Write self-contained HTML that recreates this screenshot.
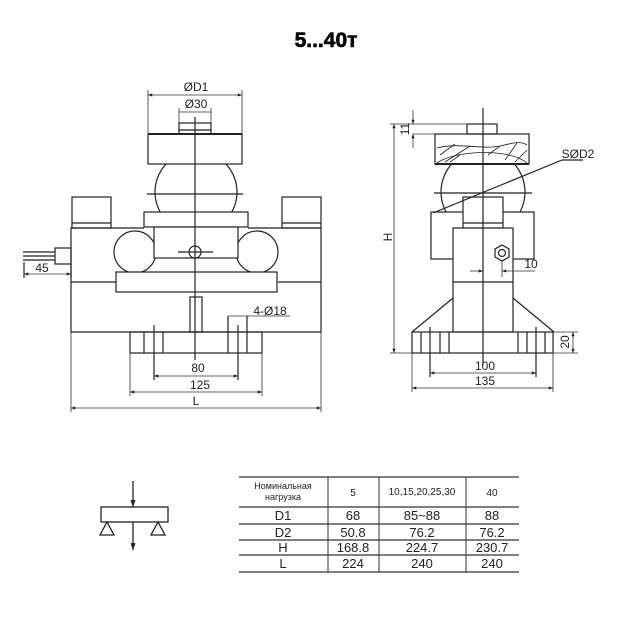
<!DOCTYPE html>
<html><head><meta charset="utf-8"><style>
html,body{margin:0;padding:0;background:#fff;}
svg{display:block;}
text{font-family:"Liberation Sans","DejaVu Sans",sans-serif;fill:#222;}
</style></head><body>
<svg width="630" height="630" viewBox="0 0 630 630" xmlns="http://www.w3.org/2000/svg">
<defs>
<marker id="a" viewBox="0 0 8 6" refX="8" refY="3" markerWidth="6" markerHeight="4" orient="auto-start-reverse"><path d="M0,0L8,3L0,6z" fill="#222"/></marker>
<clipPath id="bc1"><rect x="100" y="164" width="200" height="49"/></clipPath>
<clipPath id="bc2"><rect x="400" y="165" width="200" height="47"/></clipPath>
<clipPath id="sb"><rect x="0" y="228" width="630" height="44"/></clipPath>
</defs>
<text x="326" y="47" font-size="21" font-weight="bold" text-anchor="middle" style="fill:#000;stroke:#000;stroke-width:0.6">5...40т</text>

<g fill="none" stroke="#222" stroke-width="1.2">
<!-- LEFT VIEW -->
<rect x="148" y="134" width="94" height="30"/>
<line x1="148" y1="134" x2="242" y2="134" stroke-width="2"/>
<rect x="179" y="123" width="32" height="11"/>
<line x1="179" y1="130" x2="211" y2="130"/>
<g clip-path="url(#bc1)"><circle cx="196" cy="192" r="41"/></g>
<line x1="147" y1="194" x2="243" y2="194"/>
<g clip-path="url(#sb)"><circle cx="135" cy="252" r="21"/><circle cx="257" cy="252" r="21"/></g>
<rect x="144" y="212" width="104" height="15" fill="#fff"/>
<rect x="154" y="227" width="84" height="31" fill="#fff"/>
<path d="M144,228H71V332H321V228H248"/>
<path d="M71,282H116M278,282H321"/>
<rect x="116" y="272" width="161" height="20" fill="#fff"/>
<rect x="72" y="197" width="39" height="31"/>
<line x1="72" y1="223" x2="111" y2="223"/>
<rect x="282" y="197" width="39" height="31"/>
<line x1="282" y1="223" x2="321" y2="223"/>
<circle cx="195" cy="252" r="6"/>
<line x1="178" y1="252" x2="213" y2="252"/>
<rect x="190" y="297" width="12" height="35"/>
<rect x="130" y="332" width="132" height="21"/>
<path d="M144,332V353M163,332V353M228,316V353M247,316V353"/>
<path d="M154,325V380M238,325V380"/>
<line x1="195" y1="117" x2="195" y2="360"/>
<rect x="55" y="248" width="16" height="16"/>
<path d="M23,252H55M23,256H55M23,260H55"/>
<path d="M24,262V278M71,264V278"/>
</g>
<g stroke="#333" stroke-width="0.8" fill="none">
<path d="M148,134V90M242,134V90M179,123V108M211,123V108"/>
<line x1="148" y1="95" x2="242" y2="95" marker-start="url(#a)" marker-end="url(#a)"/>
<line x1="179" y1="112" x2="211" y2="112"/>
<line x1="24" y1="274" x2="71" y2="274" marker-start="url(#a)" marker-end="url(#a)"/>
<line x1="154" y1="376" x2="238" y2="376" marker-start="url(#a)" marker-end="url(#a)"/>
<path d="M130,353V396M262,353V396M71,332V412M321,332V412"/>
<line x1="130" y1="392" x2="262" y2="392" marker-start="url(#a)" marker-end="url(#a)"/>
<line x1="71" y1="408" x2="321" y2="408" marker-start="url(#a)" marker-end="url(#a)"/>
<line x1="228" y1="316" x2="290" y2="316"/>
</g>
<g font-size="12" text-anchor="middle">
<text x="196" y="91">ØD1</text>
<text x="196" y="108">Ø30</text>
<text x="42" y="272">45</text>
<text x="270" y="315">4-Ø18</text>
<text x="198" y="372">80</text>
<text x="200" y="389">125</text>
<text x="196" y="405">L</text>
</g>

<!-- RIGHT VIEW -->
<g fill="none" stroke="#222" stroke-width="1.2">
<rect x="467" y="124" width="30" height="10"/>
<rect x="435" y="134" width="94" height="30"/>
<line x1="435" y1="164" x2="529" y2="164" stroke-width="2"/>
<path d="M437,148C460,142 480,150 500,146 510,144 520,140 527,145" stroke-width="0.8"/>
<path d="M437,163C455,150 510,148 527,163" stroke-width="0.8"/>
<path d="M440,155L455,144M445,162L470,146M488,155L500,146M505,160L517,143M515,162L527,150M450,162L460,155" stroke-width="0.8"/>
<g clip-path="url(#bc2)"><circle cx="483" cy="192" r="42"/></g>
<line x1="434" y1="193" x2="532" y2="193"/>
<rect x="431" y="212" width="103" height="47" fill="#fff"/>
<rect x="463" y="197" width="40" height="31" fill="#fff"/>
<line x1="463" y1="223" x2="503" y2="223"/>
<rect x="453" y="228" width="60" height="104" fill="#fff"/>
<line x1="453" y1="282" x2="513" y2="282"/>
<polygon points="502,245 509,249 509,257 502,261 495,257 495,249"/>
<circle cx="502" cy="253" r="3.5"/>
<path d="M453,298L412,332M513,298L554,332"/>
<rect x="412" y="332" width="141" height="21"/>
<path d="M421,332V353M430,327V377M440,332V353M449,332V353M518,332V353M527,332V353M536,327V377M545,332V353"/>
<line x1="483" y1="108" x2="483" y2="365"/>
<line x1="433" y1="213" x2="562" y2="160"/>
<line x1="562" y1="160" x2="583" y2="160"/>
</g>
<g stroke="#333" stroke-width="0.8" fill="none">
<path d="M390,124H467M413,134H435M412,353V392M553,353V392M390,353H412M553,332H578M553,353H578"/>
<line x1="413" y1="110" x2="413" y2="124" marker-end="url(#a)"/>
<line x1="413" y1="148" x2="413" y2="134" marker-end="url(#a)"/>
<line x1="394" y1="124" x2="394" y2="353" marker-start="url(#a)" marker-end="url(#a)"/>
<line x1="573" y1="332" x2="573" y2="353" marker-start="url(#a)" marker-end="url(#a)"/>
<line x1="470" y1="271" x2="483" y2="271" marker-end="url(#a)"/>
<line x1="520" y1="271" x2="502" y2="271" marker-end="url(#a)"/>
<line x1="502" y1="261" x2="502" y2="277"/>
<line x1="520" y1="271" x2="535" y2="271"/>
<line x1="430" y1="373" x2="536" y2="373" marker-start="url(#a)" marker-end="url(#a)"/>
<line x1="412" y1="388" x2="553" y2="388" marker-start="url(#a)" marker-end="url(#a)"/>
</g>
<g font-size="12" text-anchor="middle">
<text x="0" y="0" transform="translate(409,129) rotate(-90)">11</text>
<text x="0" y="0" transform="translate(392,237) rotate(-90)">H</text>
<text x="0" y="0" transform="translate(569,342) rotate(-90)">20</text>
<text x="578" y="158">SØD2</text>
<text x="531" y="268">10</text>
<text x="485" y="370">100</text>
<text x="485" y="385">135</text>
</g>

<g fill="none" stroke="#222" stroke-width="1.3">
<rect x="101" y="507" width="67" height="15"/>
<line x1="133" y1="481" x2="133" y2="507" marker-end="url(#a)"/>
<line x1="133" y1="522" x2="133" y2="550" marker-end="url(#a)"/>
<polygon points="107,522 100,535 114,535"/>
<polygon points="158,522 151,535 165,535"/>
</g>

<g stroke="#333" fill="none">
<path d="M239,477H519M239,507H519M239,524H519M239,540H519M239,555H519M239,572H519" stroke-width="1.3"/>
<path d="M328,477V572M379,477V572M466,477V572" stroke-width="1"/>
</g>
<g text-anchor="middle">
<text x="283" y="489" font-size="9">Номинальная</text>
<text x="283" y="500" font-size="9">нагрузка</text>
<text x="353" y="496" font-size="10">5</text>
<text x="422" y="495" font-size="10">10,15,20,25,30</text>
<text x="492" y="496" font-size="10">40</text>
<g font-size="13">
<text x="283" y="520">D1</text><text x="353" y="520">68</text><text x="422" y="520">85~88</text><text x="492" y="520">88</text>
<text x="283" y="537">D2</text><text x="353" y="537">50.8</text><text x="422" y="537">76.2</text><text x="492" y="537">76.2</text>
<text x="283" y="552">H</text><text x="353" y="552">168.8</text><text x="422" y="552">224.7</text><text x="492" y="552">230.7</text>
<text x="283" y="568">L</text><text x="353" y="568">224</text><text x="422" y="568">240</text><text x="492" y="568">240</text>
</g>
</g>
</svg>
</body></html>
